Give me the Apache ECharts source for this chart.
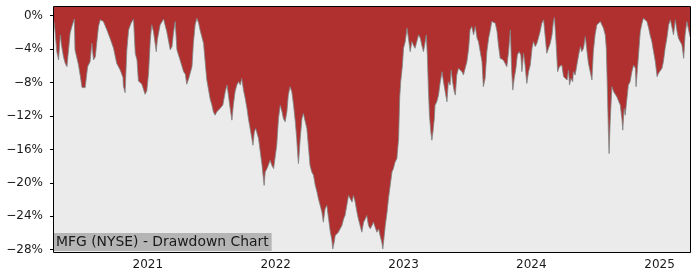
<!DOCTYPE html>
<html>
<head>
<meta charset="utf-8">
<script src="https://cdn.jsdelivr.net/npm/echarts@6/dist/echarts.min.js"></script>
<style>
  html, body { margin: 0; padding: 0; background: #fff; }
  #chart { width: 700px; height: 280px; }
</style>
</head>
<body>
<div id="chart"></div>
<script>
const chartTitle = 'MFG (NYSE) - Drawdown Chart';
const yTicks = [0, -4, -8, -12, -16, -20, -24, -28];
const xTickYears = [2021, 2022, 2023, 2024, 2025];
const xMin = '2020-04-08';
const xMax = '2025-03-29';
const yMin = -28.27;
const yMax = 1.04;

const dates = [
'2020-04-08','2020-04-11','2020-04-16','2020-04-21','2020-04-26','2020-04-30','2020-05-05','2020-05-10','2020-05-15','2020-05-19',
'2020-05-24','2020-05-29','2020-06-05','2020-06-07','2020-06-17','2020-06-22','2020-06-27','2020-07-01','2020-07-06','2020-07-13',
'2020-07-20','2020-07-25','2020-07-30','2020-08-04','2020-08-08','2020-08-13','2020-08-18','2020-08-23','2020-08-27','2020-09-06',
'2020-09-15','2020-09-25','2020-10-04','2020-10-14','2020-10-22','2020-10-23','2020-10-28','2020-11-02','2020-11-07','2020-11-14',
'2020-11-21','2020-11-26','2020-12-01','2020-12-05','2020-12-15','2020-12-24','2020-12-29','2021-01-03','2021-01-08','2021-01-12',
'2021-01-17','2021-01-25','2021-01-28','2021-02-05','2021-02-15','2021-02-19','2021-02-24','2021-03-06','2021-03-11','2021-03-15',
'2021-03-20','2021-03-25','2021-04-03','2021-04-13','2021-04-18','2021-04-22','2021-04-27','2021-05-07','2021-05-11','2021-05-16',
'2021-05-21','2021-05-26','2021-05-30','2021-06-04','2021-06-09','2021-06-14','2021-06-18','2021-06-23','2021-06-28','2021-07-03',
'2021-07-07','2021-07-12','2021-07-17','2021-07-22','2021-07-26','2021-08-03','2021-08-10','2021-08-15','2021-08-19','2021-08-24',
'2021-08-29','2021-09-02','2021-09-07','2021-09-12','2021-09-17','2021-09-22','2021-09-26','2021-10-01','2021-10-06','2021-10-11',
'2021-10-15','2021-10-20','2021-10-25','2021-10-28','2021-11-01','2021-11-05','2021-11-10','2021-11-13','2021-11-18','2021-11-23',
'2021-11-27','2021-11-29','2021-12-02','2021-12-07','2021-12-11','2021-12-16','2021-12-21','2021-12-26','2021-12-31','2022-01-04',
'2022-01-09','2022-01-14','2022-01-19','2022-01-23','2022-01-28','2022-02-02','2022-02-06','2022-02-11','2022-02-16','2022-02-21',
'2022-02-26','2022-03-02','2022-03-05','2022-03-07','2022-03-12','2022-03-17','2022-03-21','2022-03-26','2022-03-31','2022-04-05',
'2022-04-09','2022-04-14','2022-04-19','2022-04-24','2022-04-29','2022-05-03','2022-05-08','2022-05-13','2022-05-17','2022-05-22',
'2022-05-27','2022-06-01','2022-06-06','2022-06-10','2022-06-13','2022-06-17','2022-06-20','2022-06-25','2022-06-29','2022-07-04',
'2022-07-09','2022-07-14','2022-07-18','2022-07-23','2022-07-28','2022-08-02','2022-08-07','2022-08-11','2022-08-16','2022-08-21',
'2022-08-25','2022-08-30','2022-09-04','2022-09-09','2022-09-14','2022-09-18','2022-09-23','2022-09-28','2022-10-03','2022-10-07',
'2022-10-12','2022-10-17','2022-10-22','2022-10-26','2022-10-31','2022-11-03','2022-11-07','2022-11-10','2022-11-15','2022-11-19',
'2022-11-24','2022-11-29','2022-12-03','2022-12-08','2022-12-13','2022-12-18','2022-12-21','2022-12-24','2022-12-29','2023-01-01',
'2023-01-06','2023-01-11','2023-01-15','2023-01-20','2023-01-25','2023-01-29','2023-02-03','2023-02-08','2023-02-13','2023-02-18',
'2023-02-22','2023-02-27','2023-03-04','2023-03-07','2023-03-10','2023-03-13','2023-03-16','2023-03-20','2023-03-23','2023-03-26',
'2023-03-30','2023-04-01','2023-04-06','2023-04-11','2023-04-16','2023-04-21','2023-04-25','2023-04-30','2023-05-05','2023-05-09',
'2023-05-14','2023-05-17','2023-05-21','2023-05-26','2023-05-29','2023-06-02','2023-06-07','2023-06-12','2023-06-17','2023-06-21',
'2023-06-26','2023-07-01','2023-07-06','2023-07-10','2023-07-15','2023-07-20','2023-07-25','2023-07-30','2023-08-03','2023-08-08',
'2023-08-13','2023-08-17','2023-08-22','2023-08-27','2023-09-01','2023-09-05','2023-09-10','2023-09-15','2023-09-20','2023-09-25',
'2023-09-29','2023-10-04','2023-10-09','2023-10-13','2023-10-18','2023-10-23','2023-10-28','2023-11-02','2023-11-06','2023-11-09',
'2023-11-13','2023-11-18','2023-11-22','2023-11-27','2023-12-02','2023-12-05','2023-12-10','2023-12-14','2023-12-19','2023-12-24',
'2023-12-29','2024-01-03','2024-01-07','2024-01-12','2024-01-17','2024-01-21','2024-01-26','2024-01-31','2024-02-05','2024-02-10',
'2024-02-14','2024-02-19','2024-02-24','2024-02-29','2024-03-04','2024-03-07','2024-03-12','2024-03-16','2024-03-21','2024-03-28',
'2024-04-02','2024-04-07','2024-04-12','2024-04-16','2024-04-19','2024-04-23','2024-04-28','2024-04-30','2024-05-05','2024-05-10',
'2024-05-15','2024-05-20','2024-05-24','2024-05-29','2024-06-03','2024-06-08','2024-06-12','2024-06-17','2024-06-22','2024-06-26',
'2024-07-01','2024-07-06','2024-07-11','2024-07-16','2024-07-20','2024-07-25','2024-07-30','2024-08-02','2024-08-05','2024-08-08',
'2024-08-10','2024-08-13','2024-08-18','2024-08-23','2024-08-28','2024-09-01','2024-09-06','2024-09-11','2024-09-16','2024-09-18',
'2024-09-22','2024-09-25','2024-09-30','2024-10-04','2024-10-09','2024-10-14','2024-10-19','2024-10-24','2024-10-26','2024-10-30',
'2024-11-02','2024-11-07','2024-11-12','2024-11-16','2024-11-21','2024-11-26','2024-12-01','2024-12-05','2024-12-10','2024-12-15',
'2024-12-20','2024-12-25','2024-12-29','2025-01-03','2025-01-08','2025-01-12','2025-01-17','2025-01-22','2025-01-27','2025-02-01',
'2025-02-05','2025-02-10','2025-02-15','2025-02-20','2025-02-24','2025-03-01','2025-03-06','2025-03-11','2025-03-15','2025-03-20',
'2025-03-25','2025-03-29'
];

const drawdown = [
-0.7,-1.9,-4.3,-5.3,-2.3,-3.7,-4.9,-5.7,-6.1,-6.3,
-2.1,-1.3,-0.4,-4.1,-5.9,-7.2,-8.6,-8.5,-8.6,-6.1,
-5.5,-3.3,-5.3,-4.9,-5.1,-1.3,-0.5,-0.4,-0.7,-1.7,
-2.7,-3.9,-5.7,-6.5,-7.4,-8.4,-9.2,-4.1,-1.7,-0.9,
-0.4,-4.5,-5.3,-7.8,-8.2,-9.4,-9.0,-6.9,-2.9,-1.1,
-1.9,-4.3,-2.9,-1.1,-0.4,-1.1,-1.9,-4.1,-3.7,-2.1,
-0.7,-4.1,-5.3,-6.7,-7.0,-8.2,-7.6,-6.1,-3.3,-1.1,
-0.3,-0.9,-1.7,-1.9,-3.3,-5.7,-7.6,-8.8,-10.0,-10.7,
-11.5,-11.9,-11.5,-11.7,-11.1,-10.7,-9.1,-8.3,-9.5,-11.1,
-12.5,-10.7,-9.1,-8.3,-7.9,-8.3,-7.5,-8.9,-9.9,-11.1,
-12.3,-13.5,-14.7,-15.5,-13.9,-13.5,-13.7,-14.7,-16.3,-17.9,
-19.5,-20.3,-18.7,-18.3,-17.9,-17.3,-17.9,-18.3,-18.3,-15.5,
-12.3,-10.7,-11.5,-12.3,-12.7,-11.5,-9.5,-8.5,-9.1,-10.7,
-12.7,-14.7,-16.7,-17.7,-14.7,-12.3,-11.7,-11.7,-13.5,-15.9,
-17.9,-18.7,-19.1,-20.3,-21.1,-21.9,-22.7,-23.5,-24.7,-23.1,
-22.7,-24.3,-25.9,-26.7,-27.9,-27.1,-26.3,-26.3,-25.9,-25.5,
-25.1,-24.3,-23.9,-22.7,-21.5,-21.3,-22.3,-21.5,-22.3,-23.5,
-24.3,-25.1,-25.9,-24.7,-24.3,-23.9,-25.1,-25.5,-25.1,-24.7,
-24.9,-25.9,-25.5,-26.3,-27.1,-27.9,-26.3,-25.1,-23.5,-21.9,
-20.3,-18.7,-18.3,-17.5,-17.1,-14.7,-9.9,-7.9,-5.9,-3.9,
-3.1,-1.5,-2.7,-4.3,-3.1,-3.5,-3.9,-3.1,-2.3,-2.7,
-3.5,-4.3,-3.1,-2.3,-4.7,-8.7,-11.9,-13.9,-14.9,-13.9,
-12.3,-10.7,-10.3,-9.5,-7.9,-6.7,-7.9,-9.1,-10.3,-7.9,
-8.3,-6.5,-7.9,-9.1,-9.5,-7.1,-6.3,-6.1,-6.7,-7.1,
-7.3,-5.5,-3.9,-1.7,-1.3,-2.3,-1.3,-2.7,-3.1,-4.3,
-5.5,-8.5,-7.5,-4.3,-2.7,-1.9,-0.7,-0.5,-0.9,-1.9,
-3.5,-5.1,-4.9,-5.3,-5.5,-6.1,-4.3,-1.7,-6.7,-8.9,
-7.5,-6.3,-4.7,-4.3,-4.7,-6.7,-4.5,-5.9,-8.1,-6.7,
-5.9,-3.9,-3.1,-3.7,-3.3,-2.7,-1.9,-0.9,-0.5,-2.7,
-4.5,-3.9,-3.3,-2.3,-0.7,-0.2,-3.5,-6.7,-6.1,-5.9,
-7.3,-7.1,-7.7,-6.5,-8.3,-7.5,-7.9,-6.7,-7.1,-5.9,
-4.7,-3.7,-4.3,-3.9,-2.5,-4.3,-5.7,-6.7,-7.7,-4.3,
-2.3,-1.1,-1.3,-0.7,-0.5,-1.5,-2.3,-3.9,-8.7,-13.9,
-16.5,-12.7,-8.5,-9.1,-9.1,-9.7,-9.5,-10.7,-12.5,-13.7,
-11.1,-11.9,-9.9,-8.3,-7.9,-6.7,-5.9,-6.3,-8.5,-6.3,
-4.7,-1.9,-0.9,-0.3,-0.5,-0.7,-1.5,-2.3,-3.1,-4.3,
-5.5,-7.3,-6.9,-6.7,-6.3,-5.5,-3.9,-2.7,-1.1,-0.5,
-0.7,-2.3,-0.5,-1.9,-2.7,-3.1,-3.5,-5.1,-2.3,-0.7,
-0.5,-2.5
];

const toTime = s => { const p = s.split('-').map(Number); return new Date(p[0], p[1] - 1, p[2]).getTime(); };

const chart = echarts.init(document.getElementById('chart'), null, { renderer: 'canvas' });
const FONT = 'DejaVu Sans';
const gridL = 54, gridR = 10, gridT = 7, gridB = 28;

const xTickValues = xTickYears.map(y => new Date(y, 0, 1).getTime());

chart.setOption({
  animation: false,
  backgroundColor: '#ffffff',
  title: {
    text: chartTitle,
    left: gridL,
    top: 233,
    padding: [2, 3, 1, 2],
    backgroundColor: '#b5b5b5',
    textStyle: { fontSize: 13.9, fontWeight: 'normal', fontFamily: FONT, color: '#1a1a1a', lineHeight: 15 }
  },
  grid: {
    left: gridL, right: gridR, top: gridT, bottom: gridB,
    show: true, backgroundColor: '#ebebeb', borderWidth: 0
  },
  xAxis: {
    type: 'value',
    min: toTime(xMin),
    max: toTime(xMax),
    splitLine: { show: false },
    axisLine: { show: false },
    axisTick: { show: true, length: 4, lineStyle: { color: '#000', width: 1 }, customValues: xTickValues },
    axisLabel: {
      customValues: xTickValues,
      formatter: v => String(new Date(v).getFullYear()),
      fontSize: 12, fontFamily: FONT, color: '#1a1a1a', margin: 7
    }
  },
  yAxis: {
    type: 'value',
    min: yMin,
    max: yMax,
    splitLine: { show: false },
    axisLine: { show: false },
    axisTick: { show: true, length: 4, lineStyle: { color: '#000', width: 1 }, customValues: yTicks },
    axisLabel: {
      customValues: yTicks,
      formatter: v => (v === 0 ? '0%' : '\u2212' + Math.abs(v) + '%'),
      fontSize: 12, fontFamily: FONT, color: '#1a1a1a', margin: 11
    }
  },
  graphic: [{
    type: 'rect',
    z: 100,
    silent: true,
    shape: { x: gridL - 0.5, y: gridT - 0.5, width: 700 - gridL - gridR + 1, height: 280 - gridT - gridB + 1 },
    style: { fill: 'none', stroke: '#000', lineWidth: 1 }
  }],
  series: [{
    type: 'line',
    data: dates.map((d, i) => [toTime(d), drawdown[i]]),
    showSymbol: false,
    symbol: 'none',
    lineStyle: { color: '#7f8585', width: 0.8 },
    areaStyle: { color: '#b03030', opacity: 1, origin: 'end' },
    z: 2
  }]
});
</script>
</body>
</html>
